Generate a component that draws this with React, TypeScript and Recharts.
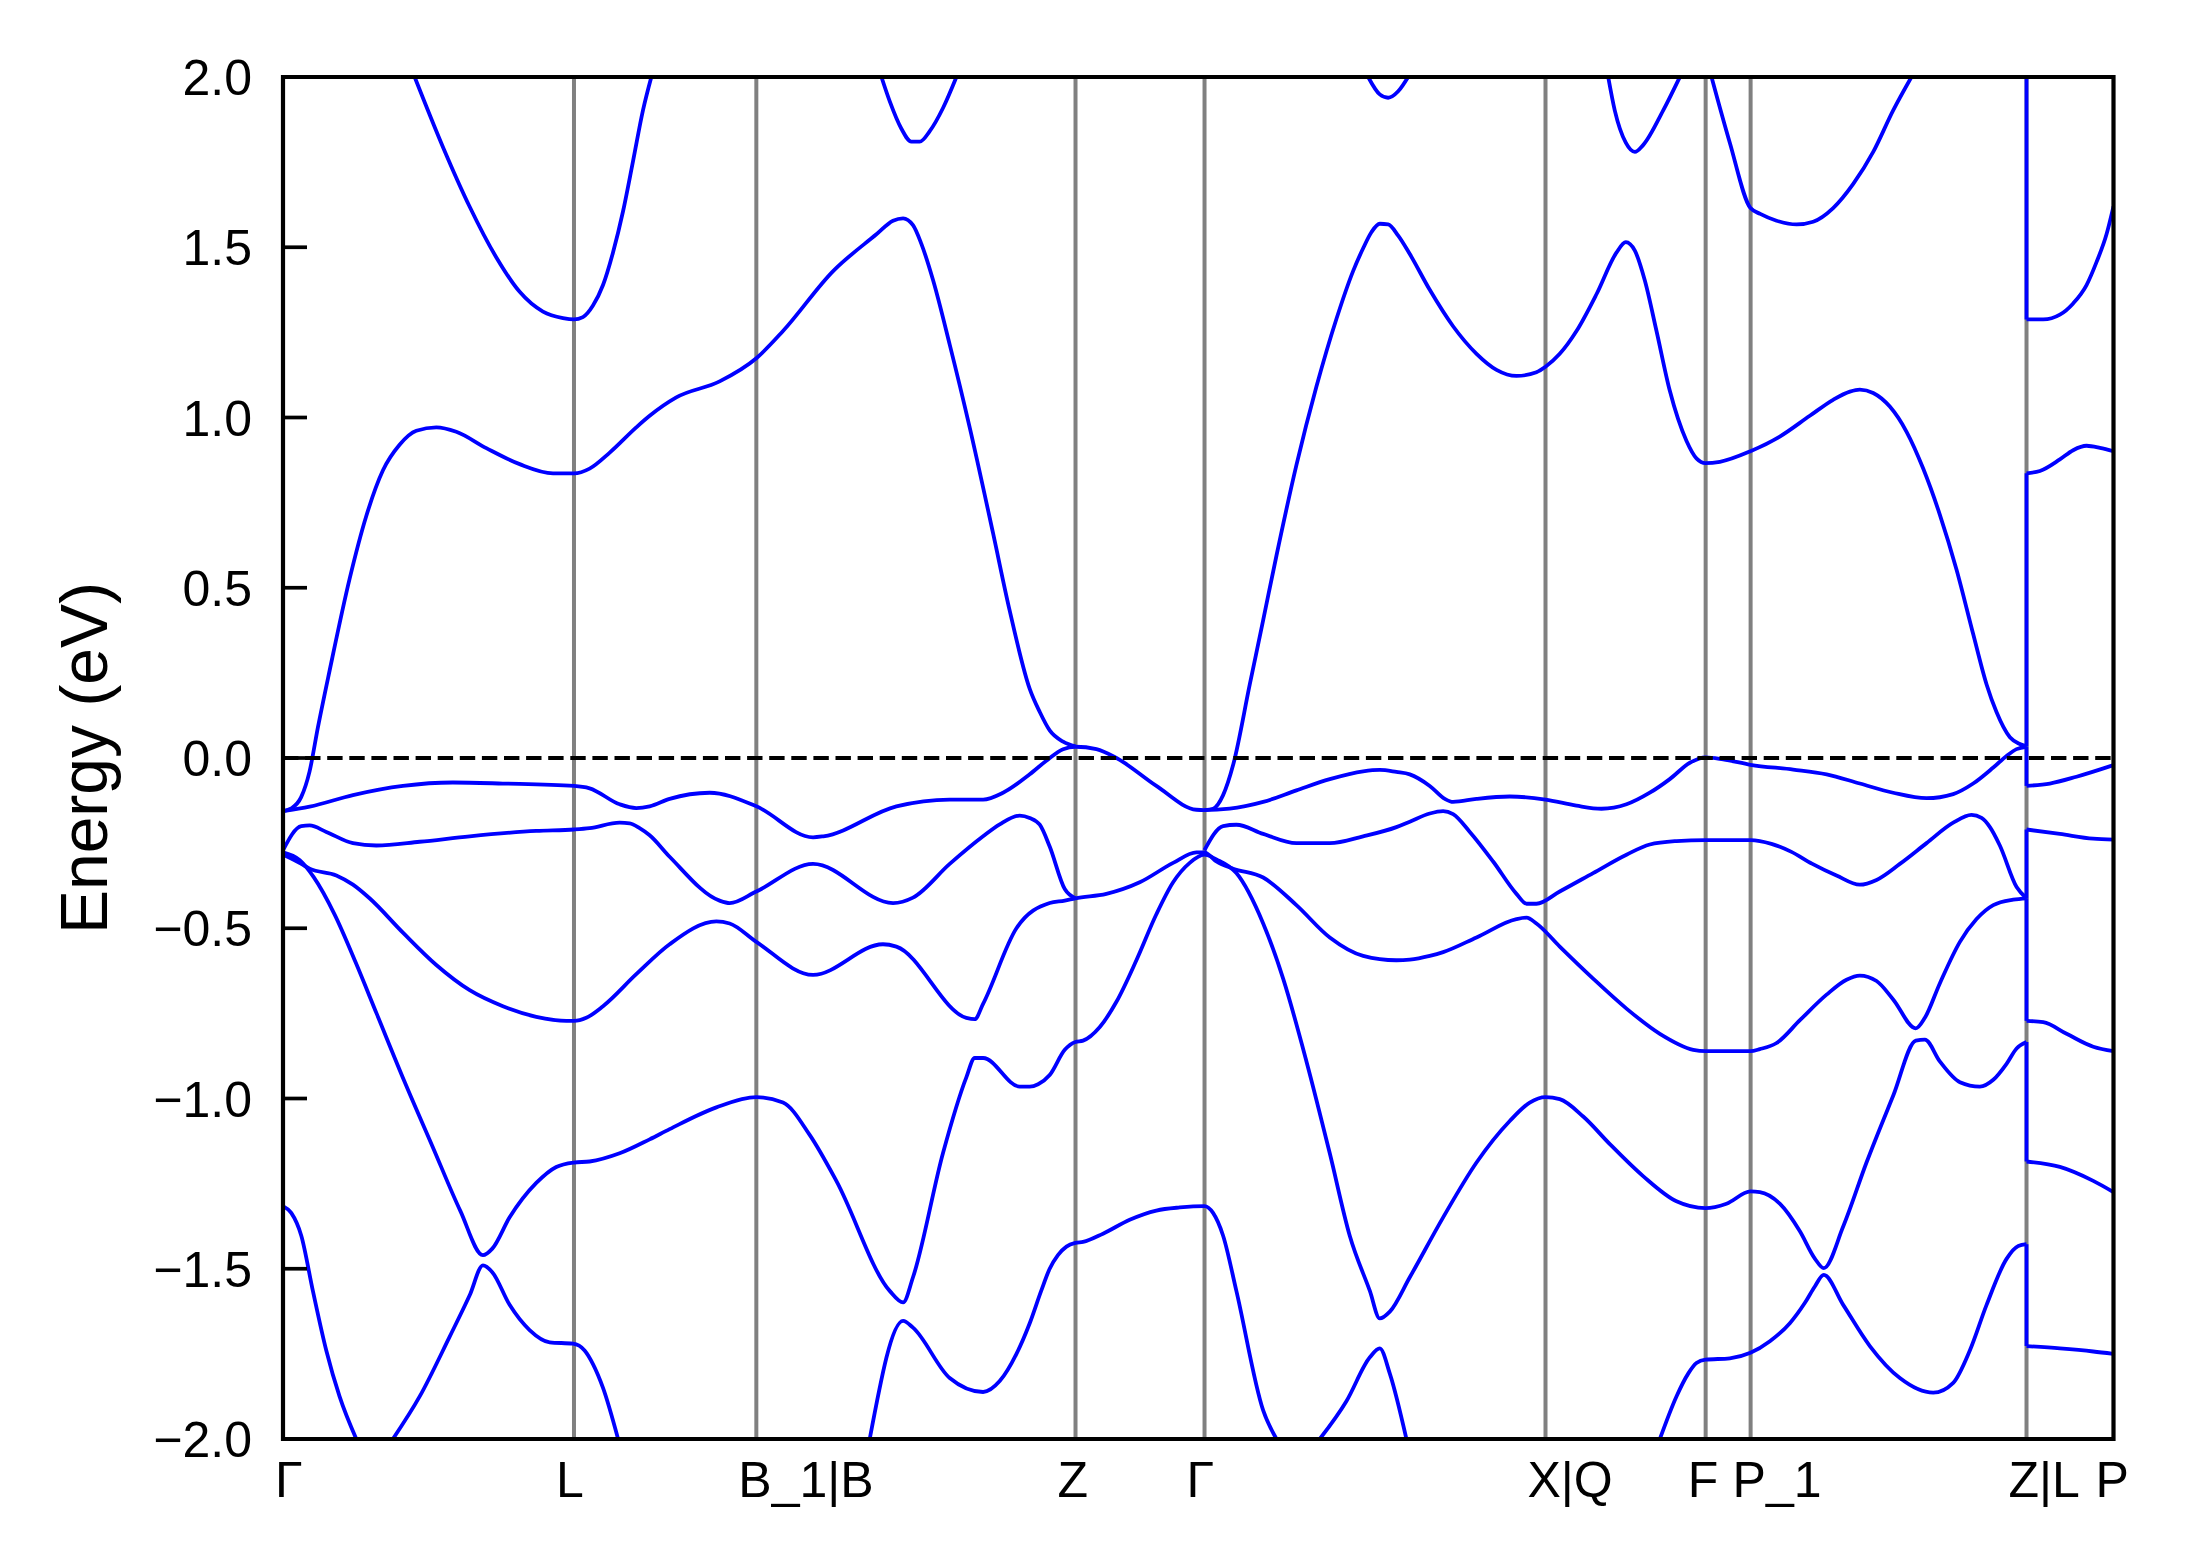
import React from "react";
import { LineChart, Line, XAxis, YAxis, ReferenceLine, ReferenceArea } from "recharts";

// k-path positions of the high-symmetry points (path length, arbitrary units)
const kTicks = [0, 208.4, 339, 567.6, 660, 904.2, 1018.9, 1051.1, 1248.7, 1311];
const kLabels = ["Γ", "L", "B_1|B", "Z", "Γ", "X|Q", "F", "P_1", "Z|L", "P"];
const energyTicks = [-2, -1.5, -1, -0.5, 0, 0.5, 1, 1.5, 2];

type Pt = [number, number]; // [k, energy in eV]

// band 1 (lowest visible, leaves the window several times)
const band1: Pt[][] = [
  [[0, -1.316], [5.9, -1.336], [13.1, -1.403], [21.4, -1.565], [31, -1.74], [40.5, -1.875], [52.5, -2.0]],
  [[78.7, -2.0], [97.9, -1.875], [119.3, -1.7], [133.7, -1.578], [143.2, -1.49], [149.9, -1.51], [162.3, -1.606],
   [176.6, -1.68], [191, -1.716], [207.7, -1.72], [216, -1.74], [222, -1.78], [229.2, -1.85], [240, -2.0]],
  [[420.2, -2.0], [444.1, -1.653], [451.2, -1.673], [477.5, -1.821], [501.4, -1.862], [513.3, -1.83], [525.3, -1.75],
   [534.8, -1.66], [543, -1.565], [549.1, -1.5], [555, -1.46], [561.1, -1.435], [567.5, -1.424], [573, -1.421],
   [587.3, -1.397], [606.4, -1.356], [625.5, -1.329], [642.3, -1.32], [659.9, -1.316], [666.1, -1.336],
   [673.3, -1.403], [682.8, -1.565], [702, -1.916], [711.5, -2.0]],
  [[742.5, -2.0], [761.6, -1.889], [778.4, -1.76], [785.5, -1.734], [792.7, -1.808], [804.6, -2.0]],
  [[986.1, -2.0], [998, -1.875], [1006.4, -1.808], [1012.3, -1.777], [1018.8, -1.767], [1036.2, -1.763], [1051, -1.747],
   [1064.9, -1.713], [1079.2, -1.66], [1090, -1.6], [1097.1, -1.552], [1103.5, -1.518], [1117.4, -1.606],
   [1136.5, -1.727], [1158, -1.821], [1181.9, -1.864], [1196.2, -1.835], [1208.1, -1.74], [1220.1, -1.606],
   [1234.4, -1.471], [1242.8, -1.433], [1248.7, -1.428]],
  [[1248.7, -1.727], [1272.6, -1.734], [1296.5, -1.743], [1311, -1.75]],
];

const band2: Pt[][] = [
  [[0, -0.277], [12, -0.3], [22, -0.35], [37, -0.46], [52, -0.6], [67, -0.75], [87, -0.95], [107, -1.14], [127, -1.33],
   [143.2, -1.46], [149.9, -1.441], [162.3, -1.349], [181.4, -1.248], [195.7, -1.201], [208.4, -1.188],
   [219.6, -1.185], [241.1, -1.161], [262.6, -1.12], [276.9, -1.09], [310.4, -1.026], [339, -0.996], [358.1, -1.012],
   [377.2, -1.107], [396.3, -1.242], [434.5, -1.565], [444.1, -1.599], [451.2, -1.525], [472.7, -1.16],
   [489.4, -0.938], [495.4, -0.881], [501.4, -0.881], [527.6, -0.965], [534.8, -0.965], [540.8, -0.958],
   [549.1, -0.931], [559.9, -0.857], [567.5, -0.834], [573, -0.83], [585, -0.79], [596.9, -0.716], [611.2, -0.594],
   [625.5, -0.459], [637.5, -0.365], [649.4, -0.308], [659.9, -0.284], [668.5, -0.298], [682.8, -0.338],
   [702, -0.486], [716.3, -0.648], [733, -0.891], [749.7, -1.161], [764, -1.403], [778.4, -1.565], [785.5, -1.646],
   [792.7, -1.626], [807, -1.525], [830.9, -1.349], [854.8, -1.188], [878.6, -1.066], [892.9, -1.012],
   [904.2, -0.996], [914.4, -1.002], [931.2, -1.053], [950.3, -1.134], [974.1, -1.228], [998, -1.302],
   [1018.8, -1.322], [1033.8, -1.309], [1051, -1.273], [1057.7, -1.275], [1072, -1.309], [1086.4, -1.39],
   [1097.1, -1.47], [1103.5, -1.498], [1117.4, -1.376], [1134.1, -1.188], [1153.2, -0.992], [1169.4, -0.83],
   [1175.9, -0.827], [1186.6, -0.891], [1201, -0.952], [1215.3, -0.965], [1224.9, -0.945], [1234.4, -0.898],
   [1241.6, -0.853], [1248.7, -0.834]],
  [[1248.7, -1.185], [1272.6, -1.201], [1296.5, -1.242], [1311, -1.275]],
];

const band3: Pt[][] = [
  [[0, -0.284], [5.9, -0.295], [13.1, -0.311], [19.1, -0.325], [38.2, -0.345], [50.1, -0.372], [62, -0.412],
   [85.9, -0.513], [109.8, -0.608], [133.7, -0.682], [157.5, -0.729], [181.4, -0.76], [202.9, -0.772],
   [208.4, -0.772], [217.2, -0.763], [229.2, -0.729], [253, -0.635], [276.9, -0.547], [310.4, -0.48],
   [319.9, -0.486], [339, -0.54], [379.6, -0.637], [429.7, -0.547], [439.3, -0.554], [489.4, -0.763],
   [495.4, -0.767], [501.4, -0.722], [525.3, -0.5], [549.1, -0.426], [559.9, -0.419], [567.5, -0.412],
   [589.7, -0.399], [613.6, -0.365], [637.5, -0.308], [654.2, -0.277], [659.9, -0.277], [668.5, -0.304],
   [680.5, -0.325], [702, -0.351], [725.8, -0.432], [749.7, -0.527], [773.6, -0.581], [797.4, -0.594],
   [807, -0.592], [821.3, -0.581], [830.9, -0.57], [854.8, -0.527], [883.4, -0.473], [890.6, -0.469],
   [897.7, -0.486], [914.4, -0.554], [938.3, -0.648], [962.2, -0.736], [986.1, -0.81], [1010, -0.857],
   [1018.8, -0.861], [1051, -0.861], [1057.7, -0.855], [1069.7, -0.837], [1086.4, -0.77], [1105.5, -0.695],
   [1119.8, -0.651], [1129.3, -0.639], [1141.3, -0.655], [1153.2, -0.709], [1169.4, -0.794], [1175.9, -0.763],
   [1186.6, -0.662], [1201, -0.54], [1212.9, -0.473], [1224.9, -0.432], [1239.2, -0.416], [1248.7, -0.412]],
  [[1248.7, -0.772], [1260.7, -0.776], [1277.4, -0.81], [1296.5, -0.848], [1311, -0.861]],
];

const band4: Pt[][] = [
  [[0, -0.271], [13.1, -0.2], [19.1, -0.198], [31, -0.217], [50.1, -0.25], [66.8, -0.257], [97.9, -0.246],
   [133.7, -0.23], [181.4, -0.214], [208.4, -0.21], [219.6, -0.206], [241.1, -0.19], [248.3, -0.192],
   [255.4, -0.206], [262.6, -0.227], [276.9, -0.29], [312.7, -0.419], [319.9, -0.426], [339, -0.392],
   [379.6, -0.311], [436.9, -0.426], [451.2, -0.41], [477.5, -0.311], [501.4, -0.23], [513.3, -0.195],
   [527.6, -0.169], [534.8, -0.176], [542, -0.196], [549.1, -0.26], [559.9, -0.385], [567.5, -0.412]],
  [[659.9, -0.271], [673.3, -0.2], [682.8, -0.196], [702, -0.223], [725.8, -0.25], [749.7, -0.25], [773.6, -0.23],
   [797.4, -0.203], [807, -0.187], [821.3, -0.163], [830.9, -0.156], [838, -0.165], [850, -0.217], [866.7, -0.304],
   [883.4, -0.399], [890.6, -0.428], [897.7, -0.428], [914.4, -0.392], [938.3, -0.338], [962.2, -0.284],
   [978.9, -0.254], [998, -0.244], [1018.8, -0.241], [1051, -0.241], [1066, -0.252], [1080, -0.275],
   [1095, -0.31], [1112.6, -0.345], [1129.3, -0.372], [1141.3, -0.358], [1158, -0.311],
   [1177.1, -0.25], [1196.2, -0.19], [1209.3, -0.167], [1216.5, -0.176], [1222.5, -0.203], [1229.6, -0.257],
   [1241.6, -0.379], [1248.7, -0.412]],
  [[1248.7, -0.21], [1272.6, -0.223], [1296.5, -0.237], [1311, -0.24]],
];

const band5: Pt[][] = [
  [[0, -0.156], [19.1, -0.143], [50.1, -0.109], [85.9, -0.082], [121.7, -0.072], [157.5, -0.075], [208.4, -0.082],
   [219.6, -0.089], [241.1, -0.136], [253, -0.147], [262.6, -0.142], [276.9, -0.12], [305.6, -0.102],
   [339, -0.142], [379.6, -0.233], [387, -0.23], [439.3, -0.142], [477.5, -0.122], [501.4, -0.122],
   [515.7, -0.102], [534.8, -0.048], [546.7, -0.008], [558.7, 0.026], [567.5, 0.033], [582.6, 0.026],
   [596.9, 0.0], [625.5, -0.082], [654.2, -0.152], [659.9, -0.153], [678, -0.149], [702, -0.129], [725.8, -0.095],
   [749.7, -0.062], [773.6, -0.039], [785.5, -0.035], [797.4, -0.041], [807, -0.048], [821.3, -0.082],
   [832.1, -0.12], [838, -0.129], [854.8, -0.12], [878.6, -0.113], [904.2, -0.122], [926.4, -0.14],
   [944.3, -0.149], [962.2, -0.136], [978.9, -0.102], [993.2, -0.062], [1007.6, -0.014], [1018.8, 0.002],
   [1031.4, -0.004], [1051, -0.02], [1081.6, -0.034], [1105.5, -0.048],
   [1129.3, -0.075], [1153.2, -0.102], [1177.1, -0.118], [1196.2, -0.106], [1210.5, -0.075], [1224.9, -0.028],
   [1234.4, 0.006], [1241.6, 0.026], [1248.7, 0.033]],
  [[1248.7, -0.082], [1265.4, -0.075], [1284.5, -0.055], [1311, -0.021]],
];

const band6: Pt[][] = [
  [[0, -0.156], [6, -0.148], [13, -0.115], [19, -0.04], [25, 0.09], [33.4, 0.257], [47.7, 0.526], [59.6, 0.71],
   [71.6, 0.845], [83.5, 0.92], [95.5, 0.961], [109.8, 0.971], [124.1, 0.958], [145.6, 0.91], [169.5, 0.863],
   [193.4, 0.836], [208.4, 0.836], [219.6, 0.85], [234, 0.897], [253, 0.971], [262.6, 1.005], [281.7, 1.059],
   [312.7, 1.106], [339, 1.174], [358.1, 1.254], [394, 1.43], [425, 1.538], [436.9, 1.578], [444.1, 1.585],
   [451.2, 1.565], [457.2, 1.51], [465.6, 1.403], [477.5, 1.214], [491.8, 0.971], [508.5, 0.661], [520.5, 0.432],
   [534.8, 0.203], [542, 0.135], [549.1, 0.081], [558.7, 0.048], [567.5, 0.034]],
  [[659.9, -0.153], [666.1, -0.149], [673.3, -0.109], [680.5, -0.02], [692.4, 0.216], [702, 0.405], [711.5, 0.594],
   [725.8, 0.86], [740.1, 1.09], [754.5, 1.29], [766.4, 1.43], [773.6, 1.497], [779.5, 1.544], [785.5, 1.569],
   [791.5, 1.567], [798.7, 1.534], [807, 1.48], [821.3, 1.375], [838, 1.268], [854.8, 1.187], [869.1, 1.14],
   [883.4, 1.122], [897.7, 1.133], [904.2, 1.149], [914.4, 1.187], [926.4, 1.254], [940.7, 1.362], [955, 1.484],
   [961.7, 1.515], [968.2, 1.49], [975.3, 1.403], [983.7, 1.254], [993.2, 1.079], [1005.2, 0.931], [1012.3, 0.88],
   [1018.8, 0.866], [1029.1, 0.87], [1051, 0.901], [1072, 0.944], [1093.5, 1.005],
   [1110.2, 1.052], [1122.2, 1.076], [1129.3, 1.082], [1138.9, 1.072], [1150.8, 1.032], [1162.8, 0.958],
   [1174.7, 0.85], [1186.6, 0.715], [1198.6, 0.553], [1210.5, 0.364], [1220.1, 0.216], [1227.2, 0.135],
   [1236.8, 0.061], [1243.9, 0.041], [1248.7, 0.034]],
  [[1248.7, 0.836], [1258.3, 0.843], [1272.6, 0.877], [1282.1, 0.904], [1291.7, 0.917], [1301.3, 0.911], [1311, 0.901]],
];

// upper band, mostly above the window
const band7: Pt[][] = [
  [[94.3, 2.0], [114.6, 1.794], [133.7, 1.619], [152.8, 1.47], [169.5, 1.369], [186.2, 1.311], [200.5, 1.292],
   [208.4, 1.288], [214.8, 1.295], [222, 1.329], [229.2, 1.389], [236.3, 1.484], [243.5, 1.605], [250.7, 1.753],
   [257.8, 1.902], [263.8, 2.0]],
  [[428.6, 2.0], [434.5, 1.929], [442.9, 1.848], [450, 1.81], [456, 1.81], [463.2, 1.841], [472.7, 1.909], [482.3, 2.0]],
  [[777.2, 2.0], [785.5, 1.949], [791.5, 1.939], [798.7, 1.958], [805.8, 2.0]],
  [[949.1, 2.0], [953.8, 1.902], [961.7, 1.807], [968.2, 1.78], [974.1, 1.8], [988.5, 1.902], [1000.4, 2.0]],
  [[1023.1, 2.0], [1036.2, 1.807], [1051, 1.615], [1058, 1.598], [1069.7, 1.578], [1084, 1.567], [1095.9, 1.575],
   [1110.2, 1.615], [1124.6, 1.686], [1138.9, 1.78], [1153.2, 1.902], [1166.3, 2.0]],
  [[1248.7, 1.288], [1260.7, 1.288], [1272.6, 1.302], [1282.1, 1.335], [1291.7, 1.389], [1298.9, 1.457],
   [1306, 1.538], [1311, 1.62]],
];

// vertical connections at the Z|L discontinuity: [energy at Z, energy at L]
const zlJumps: Pt[] = [
  [2.0, 1.288], [0.034, 0.836], [0.033, -0.082], [-0.412, -0.21], [-0.412, -0.772], [-0.834, -1.185], [-1.428, -1.727],
];

const segments: Pt[][] = [...band1, ...band2, ...band3, ...band4, ...band5, ...band6, ...band7];

const FONT = "'Liberation Sans', Arial, Helvetica, sans-serif";
const BLUE = "#0000ff";

const fmtEnergy = (v: number) => (v < 0 ? "\u2212" + Math.abs(v).toFixed(1) : v.toFixed(1));

const YTick = (props: any) => {
  const { x, y, payload } = props;
  return (
    <g>
      <line x1={x} x2={x + 24} y1={y} y2={y} stroke="#000" strokeWidth={3.7} />
      <text x={x - 31} y={y + 18} textAnchor="end" fontSize={50} fontFamily={FONT} fill="#000">
        {fmtEnergy(payload.value)}
      </text>
    </g>
  );
};

const XTick = (props: any) => {
  const { x, y, index } = props;
  const label = kLabels[index] ?? "";
  const dx = index === 0 ? -8 : -18;
  return (
    <text x={x + dx} y={y + 58} textAnchor="start" fontSize={50} fontFamily={FONT} fill="#000">
      {label}
    </text>
  );
};

const YLabel = (props: any) => {
  const vb = props.viewBox || { x: 0, y: 77, width: 283, height: 1362 };
  const cx = vb.x + 107;
  const cy = vb.y + vb.height / 2;
  return (
    <text x={cx} y={cy} transform={`rotate(-90 ${cx} ${cy})`} textAnchor="middle" fontSize={66} fontFamily={FONT} fill="#000">
      Energy (eV)
    </text>
  );
};

export default function App() {
  const zl = kTicks[8];
  return (
    <div style={{ position: "absolute", left: 0, top: 0, width: 2189, height: 1567, background: "#fff" }}>
      <LineChart width={2189} height={1567} margin={{ top: 77, right: 75.5, bottom: 0, left: 0 }}>
        <XAxis
          type="number"
          dataKey="k"
          domain={[0, 1311]}
          allowDataOverflow
          ticks={kTicks}
          interval={0}
          tick={<XTick />}
          tickLine={false}
          axisLine={false}
          tickSize={0}
          tickMargin={0}
          height={128}
        />
        <YAxis
          type="number"
          domain={[-2, 2]}
          allowDataOverflow
          ticks={energyTicks}
          interval={0}
          tick={<YTick />}
          tickLine={false}
          axisLine={false}
          tickSize={0}
          tickMargin={0}
          width={283}
          label={YLabel}
        />

        {kTicks.slice(1, -1).map((k, i) => (
          <ReferenceLine key={"v" + i} x={k} stroke="#808080" strokeWidth={4} zIndex={-10} />
        ))}

        {segments.map((seg, i) => (
          <Line
            key={"s" + i}
            data={seg.map(([k, e]) => ({ k, e }))}
            dataKey="e"
            type="monotoneX"
            stroke={BLUE}
            strokeWidth={3.8}
            dot={false}
            activeDot={false}
            isAnimationActive={false}
          />
        ))}

        {zlJumps.map(([a, b], i) => (
          <Line
            key={"j" + i}
            data={[{ k: zl, e: a }, { k: zl, e: b }]}
            dataKey="e"
            type="linear"
            stroke={BLUE}
            strokeWidth={3.8}
            dot={false}
            activeDot={false}
            isAnimationActive={false}
          />
        ))}

        <ReferenceLine y={0} stroke="#000" strokeWidth={4} strokeDasharray="15.4 6.7" zIndex={1400} />
        <ReferenceArea
          x1={0}
          x2={1311}
          y1={-2}
          y2={2}
          fill="none"
          fillOpacity={0}
          stroke="#000"
          strokeWidth={4.2}
          ifOverflow="visible"
          zIndex={1500}
        />
      </LineChart>
    </div>
  );
}
